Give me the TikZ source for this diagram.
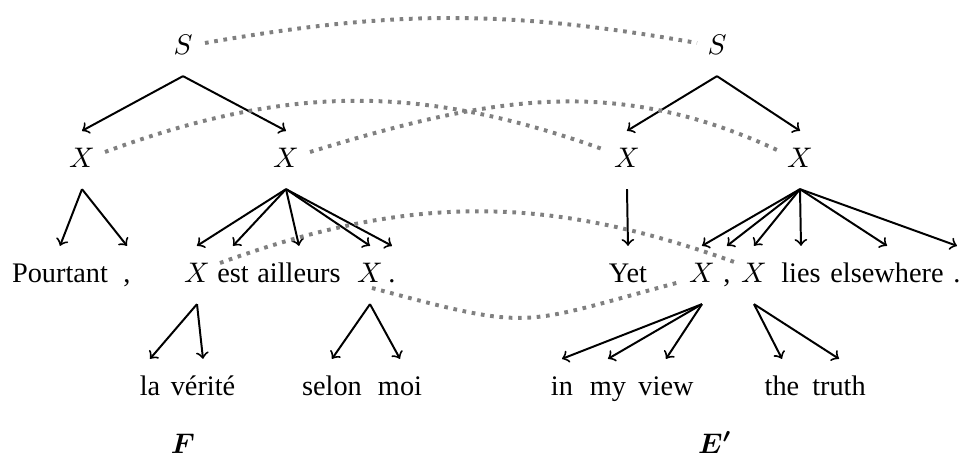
\documentclass[tikz,border=0pt]{standalone}
\usepackage{fontspec}
\setmainfont{Liberation Serif}
\usepackage{bm}
\begin{document}
\begin{tikzpicture}[x=0.3533pt,y=-0.3533pt,
  tn/.style={inner xsep=3.5pt,inner ysep=5.6pt,text height=7pt,text depth=2pt,font=\fontsize{10pt}{12pt}\selectfont},
  arr/.style={->,line width=0.7pt},
  link/.style={draw=black!50,line width=1.4pt,dash pattern=on 1.3pt off 2pt}]
\useasboundingbox (0,0) rectangle (962,455);
% left tree
\node[tn] (S1) at (183,47) {$S$};
\node[tn] (X1) at (82,160) {$X$};
\node[tn] (X2) at (286,160) {$X$};
\node[tn] (w1) at (60,275) {Pourtant};
\node[tn] (w2) at (127,275) {,};
\node[tn] (w3) at (197,275) {$X$};
\node[tn] (w4) at (233,275) {est};
\node[tn] (w5) at (299,275) {ailleurs};
\node[tn] (w6) at (370,275) {$X$};
\node[tn] (w7) at (392,275) {.};
\node[tn] (s1) at (150,388) {la};
\node[tn] (s2) at (203,388) {vérité};
\node[tn] (s3) at (332,388) {selon};
\node[tn] (s4) at (400,388) {moi};
\node[tn] (F) at (183,446) {$\bm{F}$};
% right tree
\node[tn] (S2) at (717,47) {$S$};
\node[tn] (X3) at (627,160) {$X$};
\node[tn] (X4) at (800,160) {$X$};
\node[tn] (r1) at (628,275) {Yet};
\node[tn] (r2) at (702,275) {$X$};
\node[tn] (r3) at (727,275) {,};
\node[tn] (r4) at (754,275) {$X$};
\node[tn] (r5) at (801,275) {lies};
\node[tn] (r6) at (887,275) {elsewhere};
\node[tn] (r7) at (957,275) {.};
\node[tn] (t1) at (562,388) {in};
\node[tn] (t2) at (608,388) {my};
\node[tn] (t3) at (666,388) {view};
\node[tn] (t4) at (782,388) {the};
\node[tn] (t5) at (839,388) {truth};
\node[tn] (E) at (715,446) {$\bm{E'}$};
% arrows left
\foreach \c in {X1,X2} \draw[arr] (S1.south) -- (\c.north);
\foreach \c in {w1,w2} \draw[arr] (X1.south) -- (\c.north);
\foreach \c in {w3,w4,w5,w6,w7} \draw[arr] (X2.south) -- (\c.north);
\foreach \c in {s1,s2} \draw[arr] (w3.south) -- (\c.north);
\foreach \c in {s3,s4} \draw[arr] (w6.south) -- (\c.north);
% arrows right
\foreach \c in {X3,X4} \draw[arr] (S2.south) -- (\c.north);
\draw[arr] (X3.south) -- (r1.north);
\foreach \c in {r2,r3,r4,r5,r6,r7} \draw[arr] (X4.south) -- (\c.north);
\foreach \c in {t1,t2,t3} \draw[arr] (r2.south) -- (\c.north);
\foreach \c in {t4,t5} \draw[arr] (r4.south) -- (\c.north);
% alignment links
\draw[link] ([shift={(22,-4)}]S1.center) to[bend left=10] ([shift={(-20,-4)}]S2.center);
\draw[link] ([shift={(23,-8)}]X1.center) to[bend left=20] ([shift={(-22,-10)}]X3.center);
\draw[link] ([shift={(24,-8)}]X2.center) to[out=17,in=155] ([shift={(-23,-10)}]X4.center);
\draw[link] ([shift={(23,-12)}]w3.center) to[bend left=20] ([shift={(-17,-12)}]r4.center);
\draw[link] ([shift={(2,13)}]w6.center) to[out=-15,in=-165,looseness=1.4] ([shift={(-22,7)}]r2.center);
\end{tikzpicture}
\end{document}
